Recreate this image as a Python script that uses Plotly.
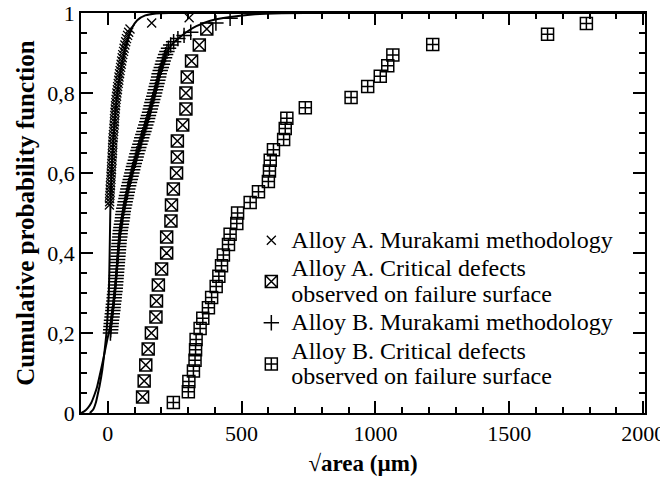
import plotly.graph_objects as go

# ---------------- data ----------------
# Alloy A, Murakami methodology (x markers)
a_mur_x = [6, 7, 7, 8, 9, 9, 10, 11, 12, 12, 13, 14, 14, 15, 16, 16, 17, 18, 18, 19,
           19, 20, 21, 22, 23, 24, 25, 25, 26, 27, 28, 29, 30, 31, 33, 34, 36, 37, 39, 41,
           42, 44, 46, 48, 50, 52, 54, 56, 59, 61, 64, 67, 70, 74, 78, 83, 164, 304]
a_mur_y = [0.520, 0.528, 0.536, 0.544, 0.552, 0.560, 0.568, 0.576, 0.584, 0.592,
           0.600, 0.608, 0.616, 0.624, 0.632, 0.640, 0.648, 0.656, 0.664, 0.672,
           0.680, 0.688, 0.696, 0.704, 0.712, 0.720, 0.728, 0.736, 0.744, 0.752,
           0.760, 0.768, 0.776, 0.784, 0.792, 0.800, 0.808, 0.816, 0.824, 0.832,
           0.840, 0.848, 0.856, 0.864, 0.872, 0.880, 0.888, 0.896, 0.904, 0.912,
           0.920, 0.928, 0.936, 0.944, 0.952, 0.960, 0.975, 0.988]

# Alloy A, critical defects observed on failure surface
a_crit_x = [130, 136, 142, 151, 163, 180, 182, 189, 201, 220, 220, 236, 238, 245, 257,
            260, 260, 280, 292, 292, 297, 313, 342, 370]
a_crit_y = [0.04, 0.08, 0.12, 0.16, 0.20, 0.24, 0.28, 0.32, 0.36, 0.40, 0.44, 0.48,
            0.52, 0.56, 0.60, 0.64, 0.68, 0.72, 0.76, 0.80, 0.84, 0.88, 0.92, 0.96]

# Alloy B, Murakami methodology (+ markers)
b_mur_x = [10, 11, 12, 13, 14, 16, 17, 19, 20, 21, 23, 24, 25, 27, 28, 29, 30, 31, 32, 33,
           34, 35, 36, 37, 38, 39, 40, 41, 42, 43, 45, 46, 47, 49, 51, 53, 55, 56, 58, 60,
           63, 65, 68, 70, 73, 75, 78, 81, 84, 87, 90, 93, 96, 99, 103, 106, 109, 113, 116, 120,
           124, 127, 131, 135, 138, 142, 146, 149, 152, 156, 159, 162, 165, 168, 172, 175, 178, 181, 184, 187,
           190, 192, 196, 200, 204, 207, 212, 216, 221, 227, 235, 246, 262, 285, 310, 404, 457]
b_mur_y = [0.200, 0.208, 0.216, 0.224, 0.232, 0.240, 0.248, 0.256, 0.264, 0.272,
           0.280, 0.288, 0.296, 0.304, 0.312, 0.320, 0.328, 0.336, 0.344, 0.352,
           0.360, 0.368, 0.376, 0.384, 0.392, 0.400, 0.408, 0.416, 0.424, 0.432,
           0.440, 0.448, 0.456, 0.464, 0.472, 0.480, 0.488, 0.496, 0.504, 0.512,
           0.520, 0.528, 0.536, 0.544, 0.552, 0.560, 0.568, 0.576, 0.584, 0.592,
           0.600, 0.608, 0.616, 0.624, 0.632, 0.640, 0.648, 0.656, 0.664, 0.672,
           0.680, 0.688, 0.696, 0.704, 0.712, 0.720, 0.728, 0.736, 0.744, 0.752,
           0.760, 0.768, 0.776, 0.784, 0.792, 0.800, 0.808, 0.816, 0.824, 0.832,
           0.840, 0.848, 0.856, 0.864, 0.872, 0.880, 0.888, 0.896, 0.904, 0.912,
           0.920, 0.928, 0.936, 0.944, 0.952, 0.975, 0.987]

# Alloy B, critical defects observed on failure surface
b_crit_x = [245, 301, 303, 320, 326, 328, 330, 345, 355, 376, 388, 405, 415, 425, 432,
            451, 457, 482, 485, 532, 563, 600, 604, 607, 619, 657, 663, 669, 738, 909,
            971, 1018, 1046, 1065, 1214, 1643, 1788]
b_crit_y = [0.026, 0.053, 0.079, 0.105, 0.132, 0.158, 0.184, 0.211, 0.237, 0.263,
            0.289, 0.316, 0.342, 0.368, 0.395, 0.421, 0.447, 0.474, 0.500, 0.526,
            0.553, 0.579, 0.605, 0.632, 0.658, 0.684, 0.711, 0.737, 0.763, 0.789,
            0.816, 0.842, 0.868, 0.895, 0.921, 0.947, 0.974]

# Fitted distribution curves
fit_a_x = [-67, -55, -45, -38, -30, -20, -12, -5, 0, 4, 6, 8, 10, 13, 17, 23, 30, 40,
           52, 68, 88, 110, 140, 180, 240, 2007]
fit_a_y = [0.0, 0.008, 0.025, 0.045, 0.07, 0.11, 0.155, 0.20, 0.25, 0.30, 0.36, 0.44,
           0.52, 0.58, 0.64, 0.70, 0.76, 0.82, 0.87, 0.92, 0.96, 0.982, 0.994, 0.999, 1.0, 1.0]
fit_b_x = [-100, -88, -75, -62, -50, -40, -28, -15, -3, 7, 16, 23, 33, 45, 62, 80, 100,
           130, 163, 185, 207, 238, 270, 300, 331, 380, 457, 550, 650, 800, 2007]
fit_b_y = [0.0, 0.004, 0.012, 0.025, 0.045, 0.065, 0.10, 0.14, 0.18, 0.21, 0.25, 0.28,
           0.36, 0.46, 0.52, 0.57, 0.62, 0.69, 0.767, 0.83, 0.88, 0.92, 0.94, 0.955, 0.967,
           0.98, 0.99, 0.997, 0.9995, 1.0, 1.0]

x_range = [-100, 2007]
y_range = [0, 1]
y_tickvals = [0, 0.2, 0.4, 0.6, 0.8, 1.0]
y_ticktext = ["0", "0,2", "0,4", "0,6", "0,8", "1"]
x_tickvals = [0, 500, 1000, 1500, 2000]
x_ticktext = ["0", "500", "1000", "1500", "2000"]

legend_names = ["Alloy A. Murakami methodology",
                "Alloy A. Critical defects<br>observed on failure surface",
                "Alloy B. Murakami methodology",
                "Alloy B. Critical defects<br>observed on failure surface"]

FONT = "Liberation Serif, Times New Roman, serif"


def big(txt):
    return "<br>".join('<span style="font-size:24px">%s</span>' % p for p in txt.split("<br>"))


fig = go.Figure()

fig.add_trace(go.Scatter(x=fit_a_x, y=fit_a_y, mode="lines", line=dict(color="black", width=2,
                         shape="spline", smoothing=0.6), showlegend=False, hoverinfo="skip"))
fig.add_trace(go.Scatter(x=fit_b_x, y=fit_b_y, mode="lines", line=dict(color="black", width=2,
                         shape="spline", smoothing=0.6), showlegend=False, hoverinfo="skip"))

fig.add_trace(go.Scatter(x=a_mur_x, y=a_mur_y, mode="markers", name=big(legend_names[0]),
                         marker=dict(symbol="x-thin-open", size=9, color="black",
                                     line=dict(width=1.3, color="black"))))
fig.add_trace(go.Scatter(x=a_crit_x, y=a_crit_y, mode="markers", name=big(legend_names[1]),
                         marker=dict(symbol="square-x-open", size=12, color="black",
                                     line=dict(width=1.5, color="black"))))
fig.add_trace(go.Scatter(x=b_mur_x, y=b_mur_y, mode="markers", name=big(legend_names[2]),
                         marker=dict(symbol="cross-thin-open", size=11, color="black",
                                     line=dict(width=1.5, color="black"))))
fig.add_trace(go.Scatter(x=b_crit_x, y=b_crit_y, mode="markers", name=big(legend_names[3]),
                         marker=dict(symbol="square-cross-open", size=12, color="black",
                                     line=dict(width=1.5, color="black"))))

fig.update_layout(
    width=660, height=482,
    margin=dict(l=81, r=15, t=13, b=69, autoexpand=False),
    paper_bgcolor="white", plot_bgcolor="white",
    font=dict(family=FONT, size=22, color="black"),
    showlegend=True,
    legend=dict(x=0.302, y=0.48, xanchor="left", yanchor="top",
                bgcolor="rgba(0,0,0,0)", font=dict(family=FONT, size=19.6, color="black"),
                itemwidth=30, tracegroupgap=0),
    xaxis=dict(range=x_range, tickmode="array", tickvals=x_tickvals, ticktext=x_ticktext,
               ticks="inside", ticklen=12, tickwidth=2, tickcolor="black",
               showgrid=False, zeroline=False,
               showline=True, linecolor="black", linewidth=1.5, mirror="ticks",
               ticklabeloverflow="allow", layer="above traces",
               minor=dict(dtick=100, tick0=0, ticks="inside", ticklen=6, tickwidth=1.6,
                          tickcolor="black", showgrid=False),
               title=dict(text="<b>√area (µm)</b>", font=dict(family=FONT, size=23), standoff=10),
               tickfont=dict(family=FONT, size=22)),
    yaxis=dict(range=y_range, tickmode="array", tickvals=y_tickvals, ticktext=y_ticktext,
               ticks="inside", ticklen=12, tickwidth=2, tickcolor="black",
               showgrid=False, zeroline=False,
               showline=True, linecolor="black", linewidth=1.5, mirror="ticks",
               ticklabeloverflow="allow", layer="above traces",
               minor=dict(dtick=0.05, tick0=0, ticks="inside", ticklen=6, tickwidth=1.6,
                          tickcolor="black", showgrid=False),
               title=dict(text="<b>Cumulative probability function</b>",
                          font=dict(family=FONT, size=25), standoff=6),
               tickfont=dict(family=FONT, size=22)),
)

fig.write_html("out.html", config={"displayModeBar": False},
               post_script="document.body.style.margin='0px';")
